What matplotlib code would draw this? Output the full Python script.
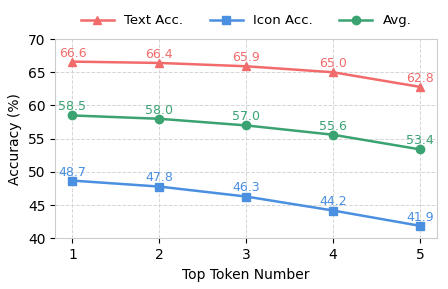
import numpy as np
import matplotlib.pyplot as plt

tokens = [1, 2, 3, 4, 5]
text_acc = [66.6, 66.4, 65.9, 65.0, 62.8]
icon_acc = [48.7, 47.8, 46.3, 44.2, 41.9]
avg_acc = [58.5, 58.0, 57.0, 55.6, 53.4]

fig, ax = plt.subplots(figsize=(4.48, 2.89), dpi=100)

series = [
    (text_acc, "Text Acc.", "#F26B6B", "^"),
    (icon_acc, "Icon Acc.", "#4A8FE0", "s"),
    (avg_acc, "Avg.", "#3BA272", "o"),
]
for vals, name, col, mk in series:
    ax.plot(tokens, vals, color=col, marker=mk, markersize=6, linewidth=1.8, label=name)
    for x, y in zip(tokens, vals):
        ax.annotate(f"{y:.1f}", (x, y), xytext=(0, 1.5), textcoords="offset points",
                    ha="center", va="bottom", fontsize=9, color=col)

ax.set_xlim(0.8, 5.2)
ax.set_ylim(40, 70)
ax.set_xticks(tokens)
ax.set_yticks([40, 45, 50, 55, 60, 65, 70])
ax.set_xlabel("Top Token Number", fontsize=10)
ax.set_ylabel("Accuracy (%)", fontsize=10)
ax.tick_params(labelsize=10)
ax.grid(True, linestyle="--", color="#d5d5d5", linewidth=0.7)
for s in ax.spines.values():
    s.set_color("#cccccc")

ax.legend(loc="lower center", bbox_to_anchor=(0.5, 1.0), ncol=3, frameon=False, fontsize=9.5,
          handlelength=2.5)

fig.subplots_adjust(left=0.123, right=0.976, top=0.865, bottom=0.175)
fig.savefig("out.png")
